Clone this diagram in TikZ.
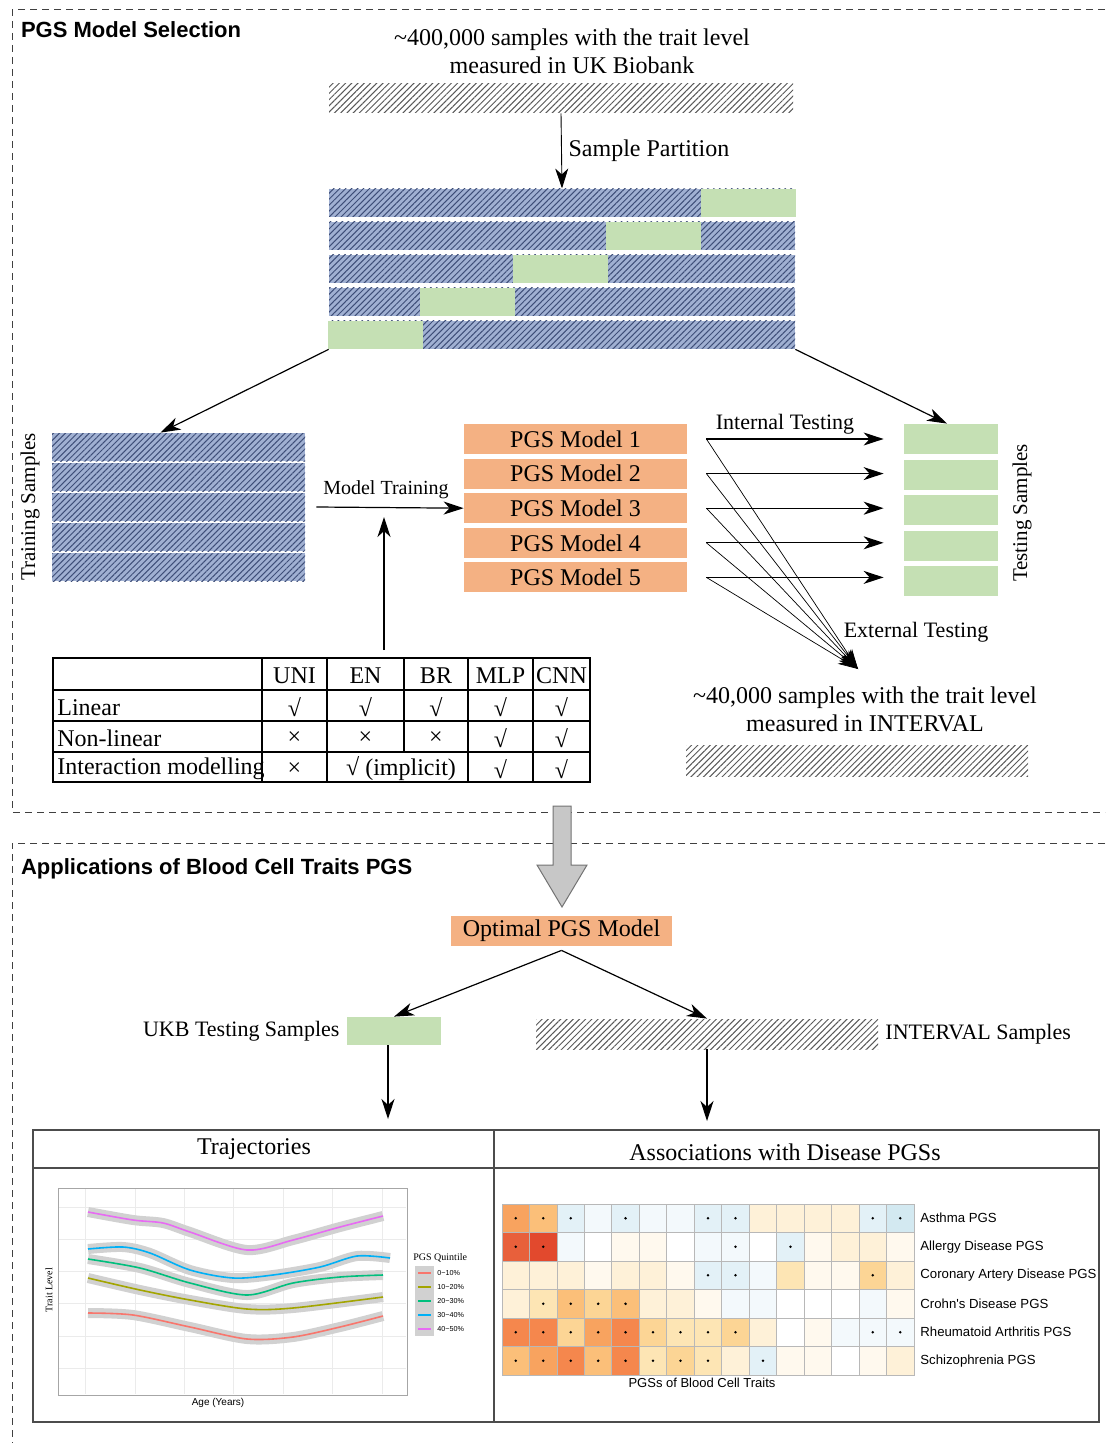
\documentclass[tikz,border=0pt]{standalone}
\usepackage{fontspec}
\setmainfont{Liberation Serif}
\newfontfamily\arialfont{Liberation Sans}
\usepackage{tikz}
\usetikzlibrary{arrows.meta}
\usetikzlibrary{calc}
\usetikzlibrary{positioning}
\usetikzlibrary{patterns.meta}

\definecolor{foldblue}{RGB}{160,176,210}
\definecolor{foldline}{RGB}{62,78,120}
\definecolor{testgreen}{HTML}{C5E0B4}
\definecolor{pgsorange}{HTML}{F4B183}
\definecolor{trajred}{HTML}{F8766D}
\definecolor{trajolive}{HTML}{A3A500}
\definecolor{trajgreen}{HTML}{00BF7D}
\definecolor{trajblue}{HTML}{00B0F6}
\definecolor{trajpink}{HTML}{E76BF3}
\definecolor{hmW}{HTML}{FFFFFF}
\definecolor{hmB0}{HTML}{F3F9FC}
\definecolor{hmB1}{HTML}{E3F1F7}
\definecolor{hmB2}{HTML}{D3E9F1}
\definecolor{hmY0}{HTML}{FFF9EE}
\definecolor{hmY1}{HTML}{FEF1D8}
\definecolor{hmY2}{HTML}{FDE5B4}
\definecolor{hmY3}{HTML}{FCD595}
\definecolor{hmO1}{HTML}{FBBF79}
\definecolor{hmO2}{HTML}{F8A35F}
\definecolor{hmO3}{HTML}{F5874D}
\definecolor{hmR1}{HTML}{E8603B}
\definecolor{hmR2}{HTML}{E2492D}

\tikzset{
  arr/.style={-{Stealth[length=10pt,width=6.5pt,inset=3pt]}, line width=0.6pt},
  thinarr/.style={-{Stealth[length=10pt,width=6pt,inset=3pt]}, line width=0.35pt},
  frame/.style={draw=black!75, line width=0.5pt, dash pattern=on 3.5pt off 2.5pt},
  head/.style={font=\arialfont\bfseries\fontsize{11}{13}\selectfont},
  graybar/.style={pattern={Lines[angle=45,distance=2.2pt,line width=0.5pt]}, pattern color=black!65, inner sep=0},
  bluebar/.style={preaction={fill=foldblue}, pattern={Lines[angle=45,distance=2.1pt,line width=0.5pt]}, pattern color=foldline, inner sep=0, minimum width=233pt, minimum height=14pt},
  greenbox/.style={fill=testgreen, inner sep=0},
  modelbox/.style={fill=pgsorange, inner sep=0, minimum width=111.5pt, minimum height=15pt},
  panel/.style={draw=black!70, line width=0.6pt},
  band/.style={preaction={draw=black!18, line width=5pt}, line width=0.8pt},
  hmlabel/.style={font=\arialfont\fontsize{6.6}{7.5}\selectfont, anchor=west, inner sep=1pt},
}

\begin{document}
\begin{tikzpicture}[x=0.5pt, y=-0.5pt, font=\fontsize{12}{14}\selectfont]

\useasboundingbox[fill=white] (0,0) rectangle (1105,1443);

% dashed section frames
\draw[frame] (1105,10) -- (12,10) -- (12,812) -- (1105,812);
\draw[frame] (1105,843) -- (12,843) -- (12,1443);

\node[head, anchor=west] (selhead) at (14,30) {PGS Model Selection};

% UK Biobank samples and partition
\node[align=center] (ukbtext) at (572,51) {\textasciitilde400,000 samples with the trait level\\measured in UK Biobank};
\node[graybar, minimum width=232pt, minimum height=14.5pt] (ukbbar) at (561,98.5) {};

\foreach \i/\g in {1/748,2/653.5,3/560.5,4/467,5/375.5} {
  \node[bluebar] (fold\i) at (562,{203+33*(\i-1)}) {};
  \node[greenbox, minimum width=47.5pt, minimum height=14.2pt] (gfold\i) at (\g,{203+33*(\i-1)}) {};
}
\draw[arr, line width=0.45pt] (ukbbar.south) -- (fold1.north) node[midway, right=0pt] (partlab) {Sample Partition};

% training samples
\foreach \i in {1,...,5}
  \node[bluebar, minimum width=126.5pt] (train\i) at (178.5,{447+30*(\i-1)}) {};
\node[rotate=90, font=\fontsize{10.5}{12}\selectfont] (trainlab) at (30,507) {Training Samples};

% models
\foreach \i in {1,...,5}
  \node[modelbox] (model\i) at (575.5,{439+34.6*(\i-1)}) {PGS Model \i};

% testing samples
\foreach \i in {1,...,5}
  \node[greenbox, minimum width=47pt, minimum height=15pt] (test\i) at (951,{439+35.6*(\i-1)}) {};
\node[rotate=90, font=\fontsize{10.5}{12}\selectfont] (testlab) at (1022,513) {Testing Samples};

\draw[arr] (fold5.south west) -- ([xshift=-9pt]train1.north);
\draw[arr] (fold5.south east) -- ([xshift=-2pt]test1.north);

\draw[arr] ([xshift=5.5pt]train3.east) -- (model3.west)
  node[midway, above=1pt, xshift=-2pt, font=\fontsize{10}{12}\selectfont] (trainarrlab) {Model Training};
\coordinate (tabtop) at (384,650);
\coordinate (trainmid) at (384,517);
\draw[arr] (tabtop) -- (trainmid);

% internal / external testing
\foreach \i in {1,...,5}
  \draw[arr] ([xshift=9.5pt]model\i.east) -- ($(model\i.east -| test\i.west)+(-20,0)$);
\node[font=\fontsize{11}{13}\selectfont] (intlab) at (785,424) {Internal Testing};

\coordinate (ext) at (858,669);
\foreach \i in {1,...,5}
  \draw[thinarr] ([xshift=9.5pt]model\i.east) -- (ext);
\node[font=\fontsize{11}{13}\selectfont] (extlab) at (916,632) {External Testing};

\node[align=center] (inttext) at (865,709) {\textasciitilde40,000 samples with the trait level\\measured in INTERVAL};
\node[graybar, minimum width=171pt, minimum height=15.5pt] (intbar) at (857,760.5) {};

% model comparison table
\draw[line width=1pt] (53,658) rectangle (590,782);
\foreach \y in {690,721,752}
  \draw[line width=1pt] (53,\y) -- (590,\y);
\foreach \x in {262,327,468,533}
  \draw[line width=1pt] (\x,658) -- (\x,782);
\draw[line width=1pt] (404,658) -- (404,752);
\foreach \m/\x in {UNI/294.5,EN/365.5,BR/436,MLP/500.5,CNN/561.5} {
  \node (h\m) at (\x,676) {\m};
  \node (lin\m) at (\x,707.5) {√};
}
\foreach \m/\x/\s in {UNI/294.5/×,EN/365.5/×,BR/436/×,MLP/500.5/√,CNN/561.5/√}
  \node (nl\m) at (\x,738.5) {\s};
\node (iaUNI) at (294.5,769) {×};
\node (iaEN) at (401,769) {√ (implicit)};
\node (iaMLP) at (500.5,769) {√};
\node (iaCNN) at (561.5,769) {√};
\node[anchor=west, inner sep=0] (rlin) at (57,707.5) {Linear};
\node[anchor=west, inner sep=0] (rnl) at (57,738.5) {Non-linear};
\node[anchor=west, inner sep=0] (ria) at (57,769) {Interaction modelling};

% big transfer arrow
\draw[fill=black!22, draw=black!55, line width=0.5pt]
  (553,806) -- (571,806) -- (571,865) -- (587,865) -- (562,907) -- (537,865) -- (553,865) -- cycle;

\node[head, anchor=west] (apphead) at (14,869) {Applications of Blood Cell Traits PGS};

% applications
\node[modelbox, minimum width=110.5pt] (optimal) at (561.5,931) {Optimal PGS Model};
\node[greenbox, minimum width=47pt, minimum height=14pt] (ukbtest) at (394,1031) {};
\node[left=0pt of ukbtest, font=\fontsize{11}{13}\selectfont] (ukblab) {UKB Testing Samples};
\node[graybar, minimum width=171pt, minimum height=15pt] (intsamp) at (707,1034) {};
\node[right=0pt of intsamp, font=\fontsize{11}{13}\selectfont] (intsamplab) {INTERVAL Samples};

\draw[arr] ([yshift=-2pt]optimal.south) -- (ukbtest.north);
\draw[arr] ([yshift=-2pt]optimal.south) -- (intsamp.north);

\coordinate (trajin) at (388,1119);
\coordinate (associn) at (707,1121);
\draw[arr] ([xshift=-3pt]ukbtest.south) -- (trajin);
\draw[arr] (intsamp.south) -- (associn);

% result panels
\draw[panel] (33,1130) rectangle (1099,1422);
\draw[panel] (494,1130) -- (494,1422);
\draw[panel] (33,1168) -- (1099,1168);
\node (trajtitle) at (254,1149) {Trajectories};
\node (assoctitle) at (785,1152) {Associations with Disease PGSs};

% trajectories plot
\draw[black!35, line width=0.5pt] (58,1188) rectangle (407,1395);
\foreach \x in {85,135,184,233,283,332,382}
  \draw[black!8, line width=0.4pt] (\x,1189) -- (\x,1394);
\foreach \y in {1207,1239,1271,1303,1336,1368}
  \draw[black!8, line width=0.4pt] (59,\y) -- (406,\y);
\draw[trajpink, band] plot[smooth] coordinates {(88,1212) (133,1220) (163,1223) (190,1232) (247,1250) (293,1240) (340,1227) (383,1216)};
\draw[trajblue, band] plot[smooth] coordinates {(88,1249) (123,1247) (150,1253) (190,1270) (233,1278) (273,1275) (320,1267) (357,1256) (390,1258)};
\draw[trajgreen, band] plot[smooth] coordinates {(88,1259) (140,1268) (190,1283) (247,1295) (293,1283) (340,1277) (383,1275)};
\draw[trajolive, band] plot[smooth] coordinates {(88,1278) (140,1290) (190,1300) (247,1309) (293,1308) (383,1297)};
\draw[trajred, band] plot[smooth] coordinates {(88,1313) (133,1315) (190,1327) (247,1339) (293,1337) (340,1327) (383,1316)};
\node[rotate=90, font=\fontsize{5}{6}\selectfont] (traitlab) at (49,1290) {Trait Level};
\node[font=\arialfont\fontsize{5}{6}\selectfont] (agelab) at (218,1403) {Age (Years)};

% legend
\node[anchor=west, inner sep=0, font=\fontsize{5}{6}\selectfont] (legtitle) at (413,1258) {PGS Quintile};
\fill[black!18] (415,1266) rectangle (434,1336);
\foreach \lab/\col [count=\i] in {0−10\%/trajred,10−20\%/trajolive,20−30\%/trajgreen,30−40\%/trajblue,40−50\%/trajpink} {
  \draw[\col, line width=0.8pt] (418,{1273+14*(\i-1)}) -- (431,{1273+14*(\i-1)});
  \node[anchor=west, inner sep=0, font=\arialfont\fontsize{3.6}{4}\selectfont] (leg\i) at (437,{1273+14*(\i-1)}) {\lab};
}

% heatmap of associations
\foreach \cells [count=\hrow] in {
  {O2/1,O1/1,B1/1,B0/0,B1/1,B0/0,B0/0,B1/1,B1/1,Y1/0,Y1/0,Y1/0,Y1/0,B1/1,B2/1},
  {R1/1,R2/1,B0/0,W/0,Y0/0,Y0/0,W/0,B0/0,B0/1,W/0,B1/1,Y0/0,Y1/0,Y1/0,Y0/0},
  {Y1/0,Y1/0,Y1/0,Y0/0,Y1/0,Y1/0,Y0/0,B1/1,B1/1,B0/0,Y2/0,Y0/0,Y0/0,Y3/1,Y1/0},
  {Y1/0,Y2/1,O1/1,Y3/1,O1/1,Y1/0,Y1/0,Y0/0,B0/0,B0/0,W/0,W/0,W/0,B0/0,Y0/0},
  {O3/1,O3/1,Y3/1,O2/1,O3/1,Y3/1,Y2/1,Y2/1,Y3/1,Y1/0,W/0,Y0/0,B0/0,B0/1,B0/1},
  {O1/1,O2/1,O3/1,O1/1,O3/1,Y2/1,Y3/1,Y2/1,Y1/0,B1/1,Y0/0,Y0/0,W/0,Y0/0,Y1/0}} {
  \foreach \hc/\hd [count=\hcol] in \cells {
    \filldraw[fill=hm\hc, draw=black!28, line width=0.4pt]
      ({502+27.467*(\hcol-1)},{1204+28.5*(\hrow-1)}) rectangle ++(27.467,28.5);
    \ifnum\hd=1
      \fill ({502+27.467*(\hcol-0.5)},{1204+28.5*(\hrow-0.5)}) circle (0.7pt);
    \fi
  }
}
\foreach \lab [count=\hrow] in {Asthma PGS,Allergy Disease PGS,Coronary Artery Disease PGS,Crohn's Disease PGS,Rheumatoid Arthritis PGS,Schizophrenia PGS}
  \node[hmlabel] (hlab\hrow) at (918,{1204+28.5*(\hrow-0.5)}) {\lab};
\node[font=\arialfont\fontsize{6.5}{8}\selectfont] (hmxlab) at (702,1383) {PGSs of Blood Cell Traits};

\end{tikzpicture}
\end{document}
